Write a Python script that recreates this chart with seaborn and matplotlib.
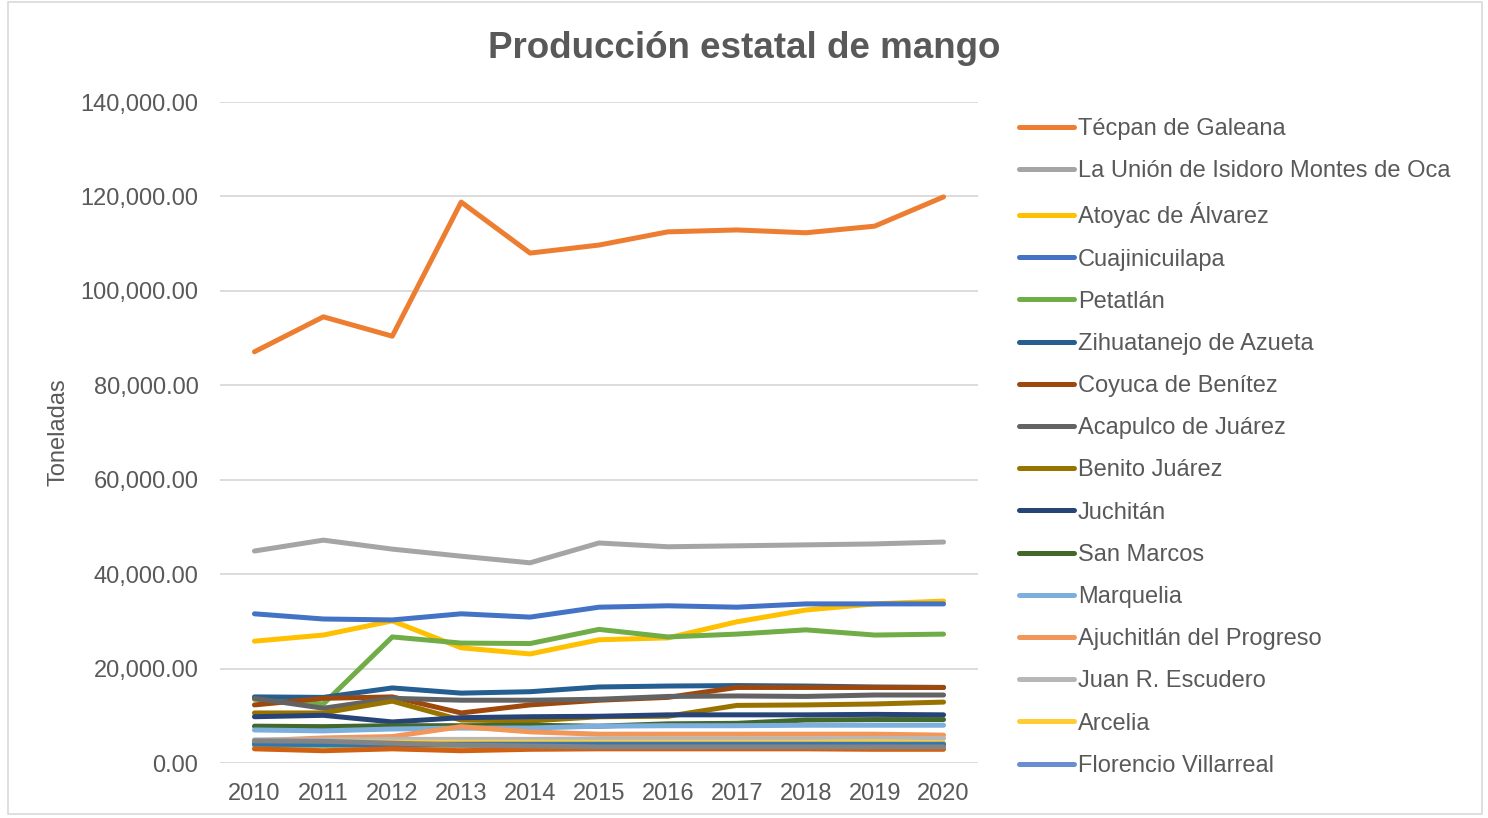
import matplotlib
matplotlib.use("Agg")
import matplotlib.pyplot as plt
import seaborn as sns
import pandas as pd
from matplotlib.ticker import FuncFormatter
from matplotlib.patches import Rectangle

years = [2010, 2011, 2012, 2013, 2014, 2015, 2016, 2017, 2018, 2019, 2020]

tecpan = [87100, 94500, 90400, 118800, 108000, 109700, 112500, 112900, 112300, 113700, 119900]
la_union = [44900, 47200, 45300, 43800, 42400, 46600, 45800, 46000, 46200, 46400, 46800]
atoyac = [25800, 27100, 30100, 24400, 23100, 26100, 26500, 29900, 32400, 33700, 34300]
cuajinicuilapa = [31600, 30500, 30300, 31600, 30900, 33000, 33300, 33000, 33700, 33700, 33700]
petatlan = [13500, 12500, 26700, 25400, 25300, 28300, 26700, 27300, 28200, 27100, 27300]
zihuatanejo = [14000, 13900, 15900, 14800, 15100, 16100, 16300, 16400, 16300, 16100, 16000]
coyuca = [12300, 13700, 14000, 10600, 12300, 13300, 13900, 16000, 16000, 16000, 16000]
acapulco = [13700, 11600, 13700, 13300, 13300, 13500, 14100, 14200, 14100, 14400, 14400]
benito_juarez = [10600, 10600, 13100, 9100, 8900, 9800, 9900, 12200, 12300, 12500, 12900]
juchitan = [9800, 10100, 8700, 9600, 9800, 9900, 10200, 10200, 10200, 10300, 10200]
san_marcos = [7800, 7700, 7900, 7900, 8000, 7800, 8300, 8400, 9100, 9200, 9200]
marquelia = [7000, 6800, 7200, 7400, 7400, 7800, 7900, 7900, 8000, 8000, 8000]
ajuchitlan = [4700, 5300, 5600, 7700, 6600, 6100, 6100, 6100, 6100, 6100, 5900]
juan_r_escudero = [4900, 4900, 5000, 5000, 5000, 5100, 5100, 5100, 5100, 5200, 5200]
arcelia = [4500, 4500, 4400, 4400, 4400, 4400, 4400, 4400, 4400, 4500, 4300]
florencio = [4100, 4000, 4000, 4000, 4000, 4000, 4000, 4000, 4000, 4000, 4000]
# series drawn in the chart but not listed in the visible legend
otro_verde = [3700, 3700, 3700, 3600, 3600, 3600, 3600, 3600, 3600, 3700, 3700]
otro_azul = [4000, 3900, 3900, 3900, 3900, 3900, 3900, 3900, 3900, 3900, 3900]
otro_naranja = [3000, 2600, 3000, 2600, 2900, 3000, 3000, 3000, 3000, 2900, 2900]
otro_gris = [4700, 4600, 4200, 3800, 3600, 3400, 3400, 3400, 3400, 3400, 3400]

names = ["Técpan de Galeana", "La Unión de Isidoro Montes de Oca", "Atoyac de Álvarez",
         "Cuajinicuilapa", "Petatlán", "Zihuatanejo de Azueta", "Coyuca de Benítez",
         "Acapulco de Juárez", "Benito Juárez", "Juchitán", "San Marcos", "Marquelia",
         "Ajuchitlán del Progreso", "Juan R. Escudero", "Arcelia", "Florencio Villarreal",
         "Otro 1", "Otro 2", "Otro 3", "Otro 4"]
series = [tecpan, la_union, atoyac, cuajinicuilapa, petatlan, zihuatanejo, coyuca,
          acapulco, benito_juarez, juchitan, san_marcos, marquelia, ajuchitlan,
          juan_r_escudero, arcelia, florencio, otro_verde, otro_azul, otro_naranja, otro_gris]
colors = ["#ED7D31", "#A5A5A5", "#FFC000", "#4472C4", "#70AD47", "#255E91", "#9E480E",
          "#636363", "#997300", "#264478", "#43682B", "#7CAFDD", "#F1975A", "#B7B7B7",
          "#FFCD33", "#698ED0", "#8CC168", "#3276B1", "#D26012", "#848484"]
n_legend = 16

rows = []
for n, s in zip(names, series):
    for y, v in zip(years, s):
        rows.append({"Año": y, "Toneladas": v, "Municipio": n})
df = pd.DataFrame(rows)

sns.set_theme(style="white")
plt.rcParams["font.family"] = ["Liberation Sans", "DejaVu Sans"]
txt = "#595959"

fig = plt.figure(figsize=(14.88, 8.18), dpi=100)
ax = fig.add_axes([220 / 1488, 1 - 763 / 818, 758 / 1488, 661 / 818])

sns.lineplot(data=df, x="Año", y="Toneladas", hue="Municipio", hue_order=names,
             palette=dict(zip(names, colors)), linewidth=3.6, legend=False, ax=ax,
             sort=False)
for ln in ax.lines:
    ln.set_solid_capstyle("round")
    ln.set_solid_joinstyle("round")

ax.set_xlim(2009.5, 2020.5)
ax.set_ylim(0, 140000)
ax.set_yticks(range(0, 140001, 20000))
ax.set_xticks(years)
ax.yaxis.set_major_formatter(FuncFormatter(lambda v, p: f"{v:,.2f}"))
ax.grid(axis="y", color="#D9D9D9", linewidth=1.3)
ax.set_axisbelow(True)
for sp in ax.spines.values():
    sp.set_visible(False)
ax.tick_params(axis="both", length=0, labelsize=17, colors=txt)
ax.tick_params(axis="y", pad=15.5)
ax.tick_params(axis="x", pad=14.5)
ax.set_xlabel("")
ax.set_ylabel("Toneladas", fontsize=17, color=txt, labelpad=8)

fig.text(0.5, 1 - 48 / 818, "Producción estatal de mango", ha="center", va="center",
         fontsize=26.5, fontweight="bold", color=txt)

fig.legend(ax.lines[:n_legend], names[:n_legend], loc="upper left",
           bbox_to_anchor=(1019 / 1488, 1 - 118 / 818), frameon=False, fontsize=17,
           labelcolor=txt, handlelength=2.35, handletextpad=0.15, labelspacing=0.855,
           borderaxespad=0, borderpad=0)

fig.patches.append(Rectangle((8 / 1488, 4 / 818), 1474 / 1488, 812 / 818,
                             transform=fig.transFigure, fill=False,
                             edgecolor="#D9D9D9", linewidth=1.2))

fig.savefig("out.png", dpi=100)
